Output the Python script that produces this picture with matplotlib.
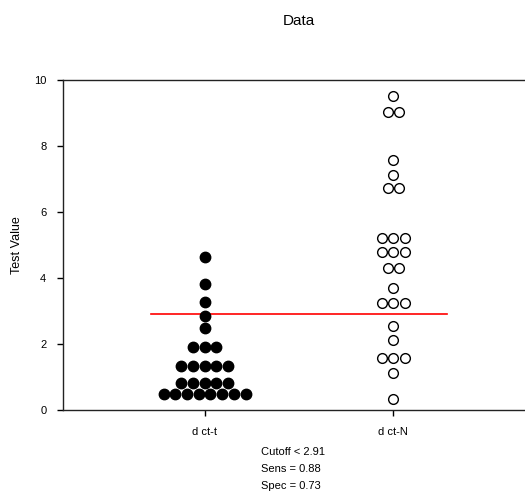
import numpy as np
import matplotlib
matplotlib.use("Agg")
import matplotlib.pyplot as plt

plt.rcParams['font.family'] = ['Liberation Sans', 'DejaVu Sans']

# Data
groups = ["d ct-t", "d ct-N"]
vals_t = [0.48]*8 + [0.83]*5 + [1.34]*5 + [1.90]*3 + [2.48, 2.85, 3.26, 3.82, 4.63]
vals_n = [0.32, 1.11] + [1.57]*3 + [2.12, 2.56] + [3.25]*3 + [3.69] + [4.31]*2 \
    + [4.80]*3 + [5.20]*3 + [6.72]*2 + [7.12, 7.58] + [9.04]*2 + [9.52]
cutoff = 2.91
sens = 0.88
spec = 0.73

fig = plt.figure(figsize=(5.25, 4.94), dpi=100)
ax = fig.add_axes([63/525, 84/494, 472/525, 330/494])

step = 0.062


def dots(vals, xc):
    xs, ys = [], []
    uniq = sorted(set(vals))
    for v in uniq:
        n = vals.count(v)
        for i in range(n):
            xs.append(xc + (i - (n - 1) / 2) * step)
            ys.append(v)
    return np.array(xs), np.array(ys)


x1, y1 = dots(vals_t, 1)
x2, y2 = dots(vals_n, 2)

ax.plot(x1, y1, 'o', ms=7.5, mfc='black', mec='black', ls='none', zorder=3)
ax.plot(x2, y2, 'o', ms=7, mfc='white', mec='black', mew=1.0, ls='none', zorder=3)

ax.plot([0.718, 2.282], [cutoff, cutoff], color='red', lw=1.2, zorder=2)

ax.set_xlim(0.25, 2.75)
ax.set_ylim(0, 10)
ax.set_xticks([1, 2])
ax.set_xticklabels(groups, fontsize=8)
ax.set_yticks([0, 2, 4, 6, 8, 10])
ax.tick_params(axis='both', direction='out', length=4, width=1, labelsize=8, pad=8)
for s in ax.spines.values():
    s.set_linewidth(1.0)
    s.set_color('#222222')

ax.set_ylabel("Test Value", fontsize=9, labelpad=8)
fig.text(299/525, 1 - 21/494, "Data", ha='center', va='center', fontsize=11)

fig.text(261/525, 1 - 452/494, "Cutoff < 2.91".replace("2.91", "%.2f" % cutoff),
         ha='left', va='center', fontsize=8)
fig.text(261/525, 1 - 469/494, "Sens = %.2f" % sens, ha='left', va='center', fontsize=8)
fig.text(261/525, 1 - 486/494, "Spec = %.2f" % spec, ha='left', va='center', fontsize=8)

fig.savefig("out.png", dpi=100)
